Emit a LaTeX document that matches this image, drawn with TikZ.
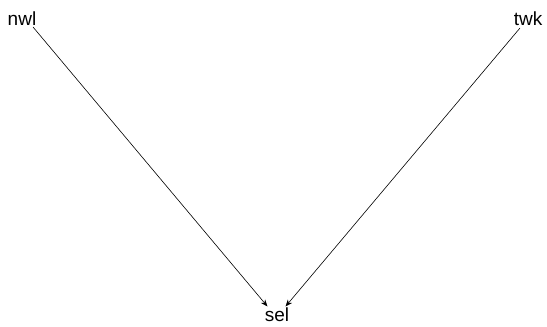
\documentclass[tikz,border=0pt]{standalone}
\usepackage{fontspec}
\setmainfont{Liberation Sans}
\usetikzlibrary{arrows.meta}
\begin{document}
\begin{tikzpicture}[x=1pt,y=-1pt,
  lbl/.style={font=\fontsize{19}{22}\selectfont, inner sep=0pt, anchor=base},
  conn/.style={-{Stealth[length=7pt,width=5.5pt]}, line width=0.6pt}]
\useasboundingbox (0,0) rectangle (547,327);
\node[lbl] (nwl) at (22,25) {nwl};
\node[lbl] (twk) at (528,25) {twk};
\node[lbl] (sel) at (277,321) {sel};
\coordinate (nwlout) at (33,27);
\coordinate (twkout) at (520,28);
\coordinate (selinl) at (267.5,306.5);
\coordinate (selinr) at (285.5,306.5);
\draw[conn] (nwlout) -- (selinl);
\draw[conn] (twkout) -- (selinr);
\end{tikzpicture}
\end{document}
